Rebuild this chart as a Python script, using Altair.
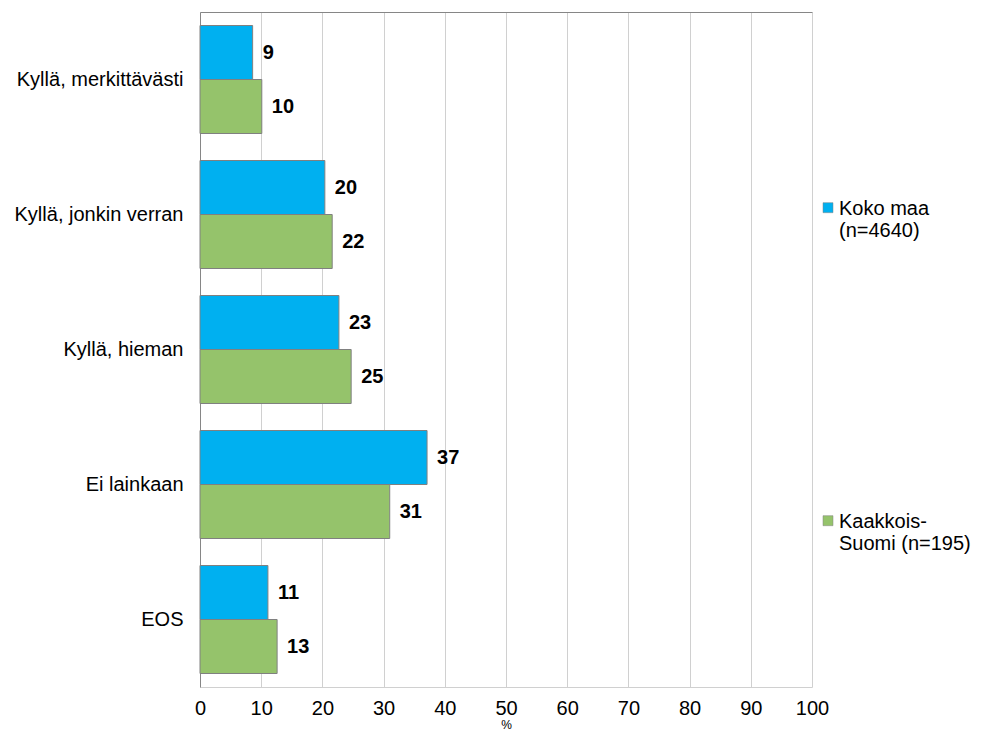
import altair as alt
import pandas as pd

categories = ["Kyllä, merkittävästi", "Kyllä, jonkin verran", "Kyllä, hieman", "Ei lainkaan", "EOS"]
series = ["Koko maa (n=4640)", "Kaakkois-Suomi (n=195)"]
legend_lines = [["Koko maa", "(n=4640)"], ["Kaakkois-", "Suomi (n=195)"]]
koko_maa = [8.6, 20.4, 22.7, 37.1, 11.1]
kaakkois = [10.1, 21.6, 24.7, 31.0, 12.6]
colors = ["#00B0F0", "#95C36B"]
x_ticks = [0, 10, 20, 30, 40, 50, 60, 70, 80, 90, 100]

rows = []
for c, a, b in zip(categories, koko_maa, kaakkois):
    rows.append({"cat": c, "series": series[0], "value": a})
    rows.append({"cat": c, "series": series[1], "value": b})
df = pd.DataFrame(rows)

FONT = "Liberation Sans"
FS = 20

label_expr = "datum.label == '%s' ? %s : %s" % (
    series[0],
    "['" + "','".join(legend_lines[0]) + "']",
    "['" + "','".join(legend_lines[1]) + "']",
)

# square symbol (unit box -1..1) shifted up so that it lines up with the first label line
square_up = "M-1,-2.46L1,-2.46L1,-0.46L-1,-0.46Z"

y_enc = alt.Y("cat:N", sort=categories,
              scale=alt.Scale(paddingInner=0.2, paddingOuter=0.1),
              axis=alt.Axis(title=None, ticks=False, labelPadding=17, labelFontSize=FS,
                            labelFont=FONT, labelColor="#000000", domainColor="#868686",
                            labelLimit=300))
yoff = alt.YOffset("series:N", sort=series, scale=alt.Scale(paddingInner=0, paddingOuter=0))

bars = alt.Chart(df).mark_bar(stroke="#808080", strokeWidth=1).encode(
    x=alt.X("value:Q", scale=alt.Scale(domain=[0, 100], nice=False),
            axis=alt.Axis(values=x_ticks, title="%", titleFontSize=12, titleFont=FONT,
                          titleFontWeight="normal", titleColor="#000000",
                          titleY=44, titleBaseline="bottom",
                          labelFontSize=FS, labelFont=FONT, labelColor="#000000",
                          labelFlush=False, labelPadding=11, ticks=False, grid=True,
                          gridColor="#d0d0d0", domainColor="#d0d0d0")),
    y=y_enc,
    yOffset=yoff,
    color=alt.Color("series:N", sort=series,
                    scale=alt.Scale(domain=series, range=colors),
                    legend=alt.Legend(title=None, orient="none", legendX=618, legendY=193,
                                      symbolType=square_up, symbolSize=100,
                                      symbolStrokeColor="#808080", symbolStrokeWidth=0.5,
                                      labelFontSize=FS, labelFont=FONT, labelColor="#000000",
                                      labelExpr=label_expr, labelBaseline="alphabetic",
                                      rowPadding=271, labelLimit=300, labelOffset=1)),
)

texts = alt.Chart(df).mark_text(align="left", baseline="middle", dx=10, fontSize=FS,
                                fontWeight="bold", font=FONT, color="#000000").encode(
    x=alt.X("value:Q", scale=alt.Scale(domain=[0, 100], nice=False),
            axis=alt.Axis(orient="top", labels=False, ticks=False, grid=False, title=None,
                          domainColor="#868686")),
    y=alt.Y("cat:N", sort=categories),
    yOffset=yoff,
    text=alt.Text("value:Q", format=".0f"),
)

chart = alt.layer(bars, texts).resolve_axis(x="independent").properties(
    width=612, height=675,
    padding={"left": 192, "top": 4, "right": 161, "bottom": 44},
    autosize=alt.AutoSizeParams(type="none"),
).configure_view(stroke=None)

chart.save("out.html", embed_options={"renderer": "svg", "actions": False})
